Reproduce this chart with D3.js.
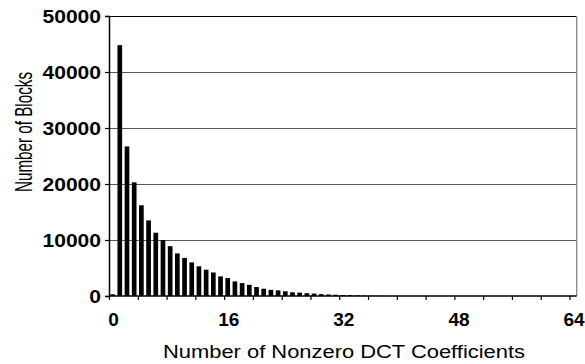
<!DOCTYPE html>
<html>
<head>
<meta charset="utf-8">
<script src="https://cdn.jsdelivr.net/npm/d3@7"></script>
<style>
  html, body { margin: 0; padding: 0; background: #fff; }
  svg { display: block; }
  text { font-family: "Liberation Sans", Arial, Helvetica, sans-serif; fill: #000; }
</style>
</head>
<body>
<svg id="chart" width="585" height="364"></svg>
<script>
// Number of nonzero DCT coefficients per block (0..64)
const categories = d3.range(0, 65);
const blockCounts = [
  300, 44800, 26700, 20300, 16200, 13500, 11300, 10000, 8900, 7600,
  6800, 6000, 5300, 4700, 4200, 3500, 3200, 2600, 2300, 2000,
  1600, 1300, 1100, 1000, 840, 660, 600, 500, 430, 330,
  270, 220, 180, 150, 110, 70, 50, 30, 0, 0,
  0, 0, 0, 0, 0, 0, 0, 0, 0, 0,
  0, 0, 0, 0, 0, 0, 0, 0, 0, 0,
  0, 0, 0, 0, 0
];
const yTickValues = [0, 10000, 20000, 30000, 40000, 50000];
const xTickLabels = [0, 16, 32, 48, 64];
const xMinorTicks = d3.range(0, 65, 4);
const xTitle = "Number of Nonzero DCT Coefficients";
const yTitle = "Number of Blocks";

const svg = d3.select("#chart");
const L = 109, R = 576.7, T = 16, B = 296;

const x = d3.scaleBand().domain(categories).range([L, R]).paddingInner(0.35).paddingOuter(0.175);
const xLin = d3.scaleLinear().domain([0, 65]).range([L, R]);
const y = d3.scaleLinear().domain([0, 50000]).range([B, T]);

// gridlines
svg.append("g").selectAll("line").data(yTickValues.filter(v => v > 0)).join("line")
  .attr("x1", L).attr("x2", R)
  .attr("y1", d => Math.round(y(d)) + 0.5).attr("y2", d => Math.round(y(d)) + 0.5)
  .attr("stroke", d => d === 50000 ? "#000" : "#555").attr("stroke-width", 1);

// right frame
svg.append("line").attr("x1", R).attr("x2", R).attr("y1", T).attr("y2", B)
  .attr("stroke", "#888").attr("stroke-width", 1.3);

// bars
svg.append("g").selectAll("rect").data(categories).join("rect")
  .attr("x", d => x(d))
  .attr("width", x.bandwidth())
  .attr("y", (d, i) => y(blockCounts[i]))
  .attr("height", (d, i) => B - y(blockCounts[i]))
  .attr("fill", "#000");

// y axis
const yAxis = d3.axisLeft(y).tickValues(yTickValues).tickSize(4).tickFormat("");
const gy = svg.append("g").attr("transform", `translate(${L},0)`).call(yAxis);
gy.select(".domain").attr("stroke", "#000").attr("stroke-width", 1.5);
gy.selectAll(".tick line").attr("stroke", "#000").attr("stroke-width", 1.2);

// y tick labels (bold, slightly widened)
svg.append("g").selectAll("text").data(yTickValues).join("text")
  .attr("x", 101).attr("y", d => y(d) + 7)
  .attr("text-anchor", "end")
  .attr("font-size", 18.5).attr("font-weight", "bold")
  .attr("textLength", d => String(d).length * 11.7)
  .attr("lengthAdjust", "spacingAndGlyphs")
  .text(d => d);

// x axis
const xAxis = d3.axisBottom(xLin).tickValues(xMinorTicks).tickSize(4).tickFormat("");
const gx = svg.append("g").attr("transform", `translate(0,${B})`).call(xAxis);
gx.select(".domain").attr("stroke", "#000").attr("stroke-width", 1.5).attr("d", `M${L},0H${R}`);
gx.selectAll(".tick line").attr("stroke", "#000").attr("stroke-width", 1.2);

// x tick labels
svg.append("g").selectAll("text").data(xTickLabels).join("text")
  .attr("x", d => x(d) + x.bandwidth() / 2 + 1)
  .attr("y", 326)
  .attr("text-anchor", "middle")
  .attr("font-size", 19).attr("font-weight", "bold")
  .text(d => d);

// axis titles
svg.append("text")
  .attr("x", 344).attr("y", 358)
  .attr("text-anchor", "middle")
  .attr("font-size", 17.5)
  .attr("textLength", 362).attr("lengthAdjust", "spacingAndGlyphs")
  .text(xTitle);

svg.append("text")
  .attr("transform", "translate(32,132) rotate(-90) scale(1,1.45)")
  .attr("text-anchor", "middle")
  .attr("font-size", 17)
  .attr("textLength", 120).attr("lengthAdjust", "spacingAndGlyphs")
  .text(yTitle);
</script>
</body>
</html>
